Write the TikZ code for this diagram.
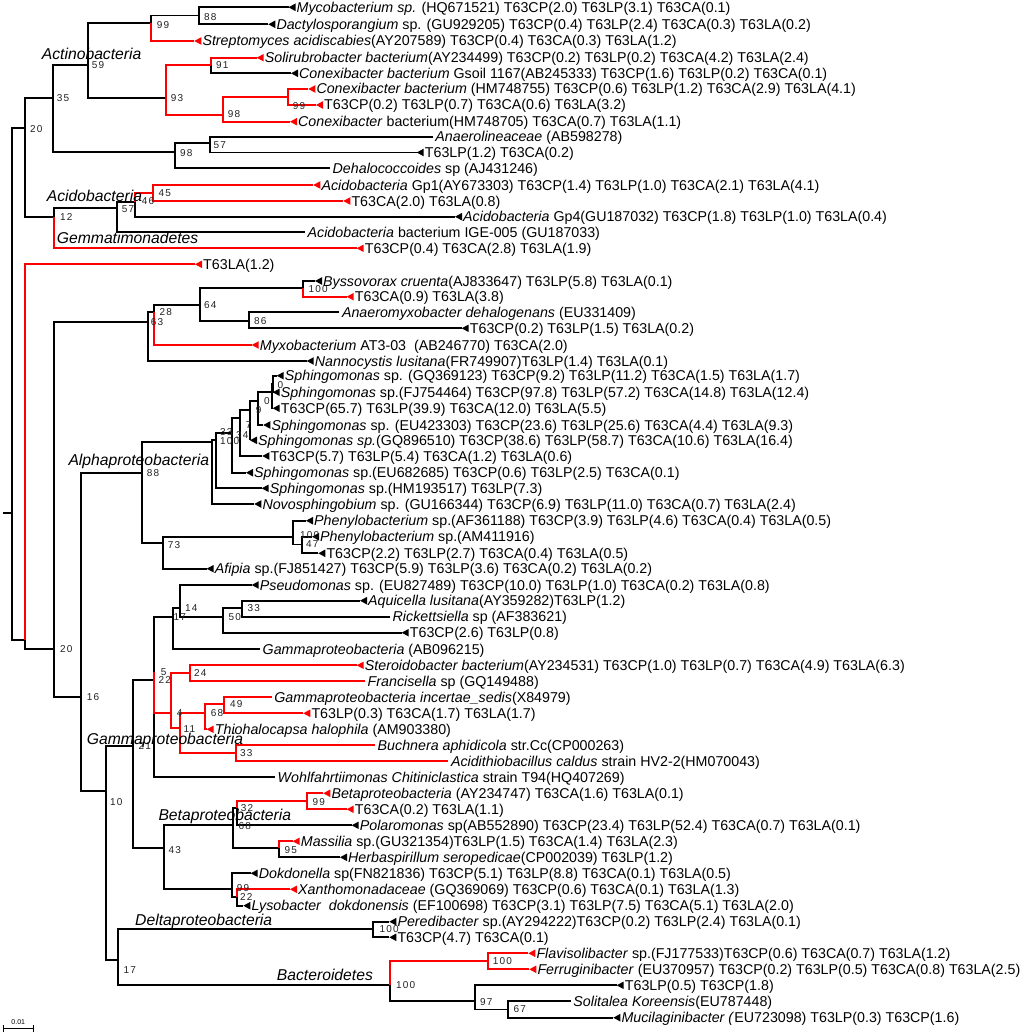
\documentclass[tikz,border=0pt]{standalone}
\usepackage{fontspec}
\setmainfont{Liberation Sans}
\newfontfamily\bsfont[LetterSpace=12]{Liberation Sans}
\definecolor{tred}{RGB}{255,0,0}
\definecolor{bsgray}{RGB}{35,35,35}
\newcommand\LT[5]{%
  \coordinate (#1) at (#2,#3);
  \fill[#4] (#1) -- ++(7,-3.8) -- ++(0,7.6) -- cycle;
  \node[leaftext] (t#1) at ([shift={(8,5)}]#1) {#5};}
\newcommand\LN[5]{%
  \coordinate (#1) at (#2,#3);
  \node[leaftext] (t#1) at ([shift={(2.5,5)}]#1) {#5};}
\newcommand\IN[3]{\coordinate (#1) at (#2,#3);}
\newcommand\BR[3]{\draw[br,#3] (#1) -- (#1 |- #2) -- (#2);}
\newcommand\BS[4]{\node[bs] (#1) at (#2,#3) {#4};}
\begin{document}
\begin{tikzpicture}[x=1pt,y=-1pt,
  br/.style={line width=1.8pt},
  leaftext/.style={font=\fontsize{14.25}{16}\selectfont, inner sep=0pt, anchor=base west},
  grp/.style={font=\fontsize{15.7}{18}\selectfont\itshape, inner sep=0pt, anchor=base west},
  bs/.style={font=\bsfont\fontsize{10}{11}\selectfont, text=bsgray, inner sep=0pt, anchor=west}]
\fill[white] (0,0) rectangle (1028,1035);
\useasboundingbox (0,0) rectangle (1028,1035);
% ---------------- leaves
\LT{L1}{288.5}{7.3}{black}{\textit{Mycobacterium sp.} (HQ671521) T63CP(2.0) T63LP(3.1) T63CA(0.1)}
\LT{L2}{268.3}{24.3}{black}{\textit{Dactylosporangium} sp. (GU929205) T63CP(0.4) T63LP(2.4) T63CA(0.3) T63LA(0.2)}
\LT{L3}{194.3}{41}{tred}{\textit{Streptomyces acidiscabies}(AY207589) T63CP(0.4) T63CA(0.3) T63LA(1.2)}
\LT{L4}{256.7}{57.7}{tred}{\textit{Solirubrobacter bacterium}(AY234499) T63CP(0.2) T63LP(0.2) T63CA(4.2) T63LA(2.4)}
\LT{L5}{291}{73.3}{black}{\textit{Conexibacter bacterium} Gsoil 1167(AB245333) T63CP(1.6) T63LP(0.2) T63CA(0.1)}
\LT{L6}{308.3}{89}{tred}{\textit{Conexibacter bacterium} (HM748755) T63CP(0.6) T63LP(1.2) T63CA(2.9) T63LA(4.1)}
\LT{L7}{316}{105}{tred}{T63CP(0.2) T63LP(0.7) T63CA(0.6) T63LA(3.2)}
\LT{L8}{290}{121.7}{tred}{\textit{Conexibacter} bacterium(HM748705) T63CA(0.7) T63LA(1.1)}
\LN{L9}{432.7}{136.7}{black}{\textit{Anaerolineaceae} (AB598278)}
\LT{L10}{416.7}{152.5}{black}{T63LP(1.2) T63CA(0.2)}
\LN{L11}{330}{168.3}{black}{\textit{Dehalococcoides} sp (AJ431246)}
\LT{L12}{313.3}{185}{tred}{\textit{Acidobacteria} Gp1(AY673303) T63CP(1.4) T63LP(1.0) T63CA(2.1) T63LA(4.1)}
\LT{L13}{343.3}{201}{tred}{T63CA(2.0) T63LA(0.8)}
\LT{L14}{455}{216.7}{black}{\textit{Acidobacteria} Gp4(GU187032) T63CP(1.8) T63LP(1.0) T63LA(0.4)}
\LN{L15}{305}{232.3}{black}{\textit{Acidobacteria} bacterium IGE-005 (GU187033)}
\LT{L16}{356.7}{248.3}{tred}{T63CP(0.4) T63CA(2.8) T63LA(1.9)}
\LT{L17}{195}{264.3}{tred}{T63LA(1.2)}
\LT{L18}{315}{281}{black}{\textit{Byssovorax cruenta}(AJ833647) T63LP(5.8) T63LA(0.1)}
\LT{L19}{346.7}{296.7}{tred}{T63CA(0.9) T63LA(3.8)}
\LN{L20}{339.3}{312.3}{black}{\textit{Anaeromyxobacter dehalogenans} (EU331409)}
\LT{L21}{461.7}{328.3}{black}{T63CP(0.2) T63LP(1.5) T63LA(0.2)}
\LT{L22}{251.7}{345}{tred}{\textit{Myxobacterium} AT3-03\ \ (AB246770) T63CA(2.0)}
\LT{L23}{306.7}{361}{black}{\textit{Nannocystis lusitana}(FR749907)T63LP(1.4) T63LA(0.1)}
\LT{L24}{276.7}{375.7}{black}{\textit{Sphingomonas} sp. (GQ369123) T63CP(9.2) T63LP(11.2) T63CA(1.5) T63LA(1.7)}
\LT{L25}{272.7}{392.3}{black}{\textit{Sphingomonas} sp.(FJ754464) T63CP(97.8) T63LP(57.2) T63CA(14.8) T63LA(12.4)}
\LT{L26}{272.7}{408.3}{black}{T63CP(65.7) T63LP(39.9) T63CA(12.0) T63LA(5.5)}
\LT{L27}{263.3}{425}{black}{\textit{Sphingomonas} sp. (EU423303) T63CP(23.6) T63LP(25.6) T63CA(4.4) T63LA(9.3)}
\LT{L28}{250}{440.3}{black}{\textit{Sphingomonas sp.}(GQ896510) T63CP(38.6) T63LP(58.7) T63CA(10.6) T63LA(16.4)}
\LT{L29}{262.3}{456}{black}{T63CP(5.7) T63LP(5.4) T63CA(1.2) T63LA(0.6)}
\LT{L30}{246}{472.7}{black}{\textit{Sphingomonas} sp.(EU682685) T63CP(0.6) T63LP(2.5) T63CA(0.1)}
\LT{L31}{261.7}{488.3}{black}{\textit{Sphingomonas} sp.(HM193517) T63LP(7.3)}
\LT{L32}{254.3}{504}{black}{\textit{Novosphingobium} sp. (GU166344) T63CP(6.9) T63LP(11.0) T63CA(0.7) T63LA(2.4)}
\LT{L33}{306}{520.7}{black}{\textit{Phenylobacterium} sp.(AF361188) T63CP(3.9) T63LP(4.6) T63CA(0.4) T63LA(0.5)}
\LT{L34}{312}{536.7}{black}{\textit{Phenylobacterium} sp.(AM411916)}
\LT{L35}{318.3}{553.3}{black}{T63CP(2.2) T63LP(2.7) T63CA(0.4) T63LA(0.5)}
\LT{L36}{206.7}{568.7}{black}{\textit{Afipia} sp.(FJ851427) T63CP(5.9) T63LP(3.6) T63CA(0.2) T63LA(0.2)}
\LT{L37}{251.7}{585}{black}{\textit{Pseudomonas} sp. (EU827489) T63CP(10.0) T63LP(1.0) T63CA(0.2) T63LA(0.8)}
\LT{L38}{360}{600.7}{black}{\textit{Aquicella lusitana}(AY359282)T63LP(1.2)}
\LN{L39}{390}{616.7}{black}{\textit{Rickettsiella} sp (AF383621)}
\LT{L40}{401.7}{632.7}{black}{T63CP(2.6) T63LP(0.8)}
\LN{L41}{260}{649}{black}{\textit{Gammaproteobacteria} (AB096215)}
\LT{L42}{356.7}{665.3}{tred}{\textit{Steroidobacter bacterium}(AY234531) T63CP(1.0) T63LP(0.7) T63CA(4.9) T63LA(6.3)}
\LN{L43}{365}{681.3}{tred}{\textit{Francisella} sp (GQ149488)}
\LN{L44}{271.7}{697.3}{tred}{\textit{Gammaproteobacteria incertae\_sedis}(X84979)}
\LT{L45}{303.3}{713.3}{tred}{T63LP(0.3) T63CA(1.7) T63LA(1.7)}
\LT{L46}{206.7}{729.3}{tred}{\textit{Thiohalocapsa halophila} (AM903380)}
\LN{L47}{375}{745.3}{tred}{\textit{Buchnera aphidicola} str.Cc(CP000263)}
\LN{L48}{448.3}{761.3}{tred}{\textit{Acidithiobacillus caldus} strain HV2-2(HM070043)}
\LN{L49}{275}{777.3}{black}{\textit{Wohlfahrtiimonas Chitiniclastica} strain T94(HQ407269)}
\LT{L50}{323.3}{793.3}{tred}{\textit{Betaproteobacteria} (AY234747) T63CA(1.6) T63LA(0.1)}
\LT{L51}{346.7}{809.3}{tred}{T63CA(0.2) T63LA(1.1)}
\LT{L52}{351.7}{825.3}{black}{\textit{Polaromonas} sp(AB552890) T63CP(23.4) T63LP(52.4) T63CA(0.7) T63LA(0.1)}
\LT{L53}{292.7}{841.3}{tred}{\textit{Massilia} sp.(GU321354)T63LP(1.5) T63CA(1.4) T63LA(2.3)}
\LT{L54}{340}{857.3}{black}{\textit{Herbaspirillum seropedicae}(CP002039) T63LP(1.2)}
\LT{L55}{250.7}{873.3}{black}{\textit{Dokdonella} sp(FN821836) T63CP(5.1) T63LP(8.8) T63CA(0.1) T63LA(0.5)}
\LT{L56}{290}{889.3}{tred}{\textit{Xanthomonadaceae} (GQ369069) T63CP(0.6) T63CA(0.1) T63LA(1.3)}
\LT{L57}{243.3}{905.7}{black}{\textit{Lysobacter\ \ dokdonensis} (EF100698) T63CP(3.1) T63LP(7.5) T63CA(5.1) T63LA(2.0)}
\LT{L58}{389.3}{921.7}{black}{\textit{Peredibacter} sp.(AY294222)T63CP(0.2) T63LP(2.4) T63LA(0.1)}
\LT{L59}{389.3}{937.3}{black}{T63CP(4.7) T63CA(0.1)}
\LT{L60}{528.3}{953.3}{tred}{\textit{Flavisolibacter} sp.(FJ177533)T63CP(0.6) T63CA(0.7) T63LA(1.2)}
\LT{L61}{529.3}{969.3}{tred}{\textit{Ferruginibacter} (EU370957) T63CP(0.2) T63LP(0.5) T63CA(0.8) T63LA(2.5)}
\LT{L62}{616.7}{985.3}{black}{T63LP(0.5) T63CP(1.8)}
\LN{L63}{570.7}{1001.3}{black}{\textit{Solitalea Koreensis}(EU787448)}
\LT{L64}{613.3}{1017.7}{black}{\textit{Mucilaginibacter (}EU723098) T63LP(0.3) T63CP(1.6)}
% ---------------- internal nodes
\IN{rootstub}{3.3}{512.7}
\IN{root}{12.3}{512.7}
\IN{N20}{25}{128}
\IN{N35}{53.3}{98}
\IN{N59}{88.3}{65}
\IN{N99a}{151}{23.3}
\IN{N88}{199}{15.5}
\IN{N93}{165.7}{98.3}
\IN{N91}{211}{65}
\IN{N98b}{222.7}{115}
\IN{N99b}{288.3}{97.3}
\IN{N98c}{175}{151.7}
\IN{N57b}{210}{143.3}
\IN{N12}{54.3}{216.7}
\IN{N57}{116.7}{208.3}
\IN{N46}{135}{201.7}
\IN{N45}{153.3}{193.3}
\IN{N20r}{25}{640}
\IN{N20b}{54.3}{649}
\IN{N63}{147.7}{321.7}
\IN{N28}{154.3}{311.7}
\IN{N64}{200}{305}
\IN{N100m}{303.3}{288.3}
\IN{N86}{249.3}{320.7}
\IN{N16}{81}{697.3}
\IN{NA88}{141.7}{472.7}
\IN{Ns8}{211.7}{441.7}
\IN{Ns7}{216}{440}
\IN{Ns6}{231.7}{433.3}
\IN{Ns5}{240}{418.3}
\IN{Ns4}{250}{410}
\IN{Ns3}{258.3}{400.7}
\IN{Ns2}{271.7}{391.7}
\IN{Ns1}{273.3}{384}
\IN{N73}{163.3}{543.3}
\IN{NPh}{293.3}{536.7}
\IN{N47}{301.7}{544.5}
\IN{N10}{106}{790.7}
\IN{N21}{133.3}{745.7}
\IN{N22}{154.3}{680}
\IN{N5}{154.3}{671.7}
\IN{N17g}{172.7}{616.7}
\IN{N14}{180}{608.3}
\IN{N50}{222.7}{616.7}
\IN{N33g}{241.7}{608.3}
\IN{N4}{171}{713.3}
\IN{N24}{190}{673.3}
\IN{N11}{180}{728.3}
\IN{N68g}{205}{713.3}
\IN{N49}{224}{704}
\IN{N33b}{236}{753}
\IN{N43}{164.3}{848.3}
\IN{N68b}{233.3}{825.3}
\IN{N32b}{236.7}{808.3}
\IN{N99be}{306.7}{801.3}
\IN{N95}{279.3}{848.3}
\IN{NX99}{231.7}{889.3}
\IN{NX22}{236.7}{896.7}
\IN{N17}{118.3}{960}
\IN{ND}{372.7}{929.3}
\IN{NB}{390}{985.3}
\IN{NF}{488.3}{961}
\IN{N97}{475}{1001.3}
\IN{N67}{508.3}{1009.5}
% ---------------- black branches
\draw[br] (rootstub) -- (root);
\BR{root}{N20}{black}\BR{root}{N20r}{black}
\BR{N20}{N35}{black}\BR{N20}{N12}{black}
\BR{N35}{N59}{black}\BR{N35}{N98c}{black}
\BR{N59}{N99a}{black}\BR{N59}{N93}{black}
\BR{N99a}{N88}{black}
\BR{N88}{L1}{black}\BR{N88}{L2}{black}
\BR{N91}{L5}{black}
\BR{N98c}{N57b}{black}\BR{N98c}{L11}{black}
\BR{N57b}{L9}{black}\BR{N57b}{L10}{black}
\BR{N12}{N57}{black}
\BR{N57}{N46}{black}\BR{N57}{L15}{black}
\BR{N46}{L14}{black}
\BR{N20r}{N20b}{black}
\BR{N20b}{N63}{black}\BR{N20b}{N16}{black}
\BR{N63}{N28}{black}\BR{N63}{L23}{black}
\BR{N28}{N64}{black}
\BR{N64}{N100m}{black}\BR{N64}{N86}{black}
\BR{N100m}{L18}{black}
\BR{N86}{L20}{black}\BR{N86}{L21}{black}
\BR{N16}{NA88}{black}\BR{N16}{N10}{black}
\BR{NA88}{Ns8}{black}\BR{NA88}{N73}{black}
\BR{Ns8}{Ns7}{black}\BR{Ns8}{L32}{black}
\BR{Ns7}{Ns6}{black}\BR{Ns7}{L31}{black}
\BR{Ns6}{Ns5}{black}\BR{Ns6}{L30}{black}
\BR{Ns5}{Ns4}{black}\BR{Ns5}{L29}{black}
\BR{Ns4}{Ns3}{black}\BR{Ns4}{L28}{black}
\BR{Ns3}{Ns2}{black}\BR{Ns3}{L27}{black}
\BR{Ns2}{Ns1}{black}\BR{Ns2}{L26}{black}
\BR{Ns1}{L24}{black}\BR{Ns1}{L25}{black}
\BR{N73}{NPh}{black}\BR{N73}{L36}{black}
\BR{NPh}{L33}{black}\BR{NPh}{N47}{black}
\BR{N47}{L34}{black}\BR{N47}{L35}{black}
\BR{N10}{N21}{black}\BR{N10}{N17}{black}
\BR{N21}{N22}{black}\BR{N21}{N43}{black}
\BR{N22}{N5}{black}\BR{N22}{L49}{black}
\BR{N5}{N17g}{black}
\BR{N17g}{N14}{black}\BR{N17g}{L41}{black}
\BR{N14}{L37}{black}\BR{N14}{N50}{black}
\BR{N50}{N33g}{black}\BR{N50}{L40}{black}
\BR{N33g}{L38}{black}\BR{N33g}{L39}{black}
\BR{N43}{N68b}{black}\BR{N43}{NX99}{black}
\BR{N68b}{N32b}{black}\BR{N68b}{N95}{black}
\BR{N32b}{L52}{black}
\BR{N95}{L54}{black}
\BR{NX99}{L55}{black}\BR{NX99}{NX22}{black}
\BR{NX22}{L57}{black}
\BR{N17}{ND}{black}\BR{N17}{NB}{black}
\BR{ND}{L58}{black}\BR{ND}{L59}{black}
\BR{NB}{N97}{black}
\BR{N97}{L62}{black}\BR{N97}{N67}{black}
\BR{N67}{L63}{black}\BR{N67}{L64}{black}
% ---------------- red branches
\BR{N99a}{L3}{tred}
\BR{N93}{N91}{tred}\BR{N93}{N98b}{tred}
\BR{N91}{L4}{tred}
\BR{N98b}{N99b}{tred}\BR{N98b}{L8}{tred}
\BR{N99b}{L6}{tred}\BR{N99b}{L7}{tred}
\BR{N12}{L16}{tred}
\BR{N46}{N45}{tred}
\BR{N45}{L12}{tred}\BR{N45}{L13}{tred}
\BR{N20r}{L17}{tred}
\BR{N28}{L22}{tred}
\BR{N100m}{L19}{tred}
\BR{N5}{N4}{tred}
\BR{N4}{N24}{tred}\BR{N4}{N11}{tred}
\BR{N24}{L42}{tred}\BR{N24}{L43}{tred}
\BR{N11}{N68g}{tred}\BR{N11}{N33b}{tred}
\BR{N68g}{N49}{tred}\BR{N68g}{L46}{tred}
\BR{N49}{L44}{tred}\BR{N49}{L45}{tred}
\BR{N33b}{L47}{tred}\BR{N33b}{L48}{tred}
\BR{N32b}{N99be}{tred}
\BR{N99be}{L50}{tred}\BR{N99be}{L51}{tred}
\BR{N95}{L53}{tred}
\BR{NX22}{L56}{tred}
\BR{NB}{NF}{tred}
\BR{NF}{L60}{tred}\BR{NF}{L61}{tred}
% ---------------- bootstrap values
\BS{b1}{204}{16.7}{88}
\BS{b2}{156.7}{25}{99}
\BS{b3}{91.7}{65}{59}
\BS{b4}{56.7}{98.3}{35}
\BS{b5}{30}{129.3}{20}
\BS{b6}{216}{65}{91}
\BS{b7}{170.7}{98.3}{93}
\BS{b8}{292.7}{106}{99}
\BS{b9}{227.7}{114}{98}
\BS{b10}{213.3}{145}{57}
\BS{b11}{180}{153.3}{98}
\BS{b12}{158.3}{193.3}{45}
\BS{b13}{141.7}{201}{46}
\BS{b14}{121.7}{209}{57}
\BS{b15}{60}{216.7}{12}
\BS{b16}{308.3}{289}{100}
\BS{b17}{204}{305}{64}
\BS{b18}{159.3}{311.7}{28}
\BS{b19}{150.7}{321.7}{63}
\BS{b20}{254}{320.7}{86}
\BS{b21}{277.3}{385}{0}
\BS{b22}{264}{400.7}{0}
\BS{b23}{255.7}{410}{9}
\BS{b24}{245.7}{425}{7}
\BS{b25}{236}{435}{34}
\BS{b26}{220}{431.7}{33}
\BS{b27}{220}{440.7}{100}
\BS{b28}{146.7}{472.7}{88}
\BS{b29}{167.7}{545}{73}
\BS{b30}{300}{535}{100}
\BS{b31}{306}{544.3}{47}
\BS{b32}{60}{649}{20}
\BS{b33}{185}{608.3}{14}
\BS{b34}{173.3}{616.7}{17}
\BS{b35}{228.3}{616.7}{50}
\BS{b36}{247.3}{608.3}{33}
\BS{b37}{160.7}{671.7}{5}
\BS{b38}{158.3}{680.3}{22}
\BS{b39}{194}{673.3}{24}
\BS{b40}{86.7}{697.3}{16}
\BS{b41}{230}{704}{49}
\BS{b42}{210.7}{713.3}{68}
\BS{b43}{176.7}{713.3}{4}
\BS{b44}{183.3}{729.3}{11}
\BS{b45}{138.3}{745.7}{21}
\BS{b46}{240}{752.7}{33}
\BS{b47}{110}{801.7}{10}
\BS{b48}{240.7}{808.3}{32}
\BS{b49}{312.3}{801.7}{99}
\BS{b50}{238.3}{826}{68}
\BS{b51}{168.3}{850}{43}
\BS{b52}{284.3}{850}{95}
\BS{b53}{236.7}{887.7}{99}
\BS{b54}{240}{896.7}{22}
\BS{b55}{379.3}{929.3}{100}
\BS{b56}{123.3}{970}{17}
\BS{b57}{396}{985}{100}
\BS{b58}{492.7}{961}{100}
\BS{b59}{480}{1001.7}{97}
\BS{b60}{513.3}{1009.3}{67}
% ---------------- group labels
\node[grp] (gActino) at (41.7,59.5) {Actinobacteria};
\node[grp] (gAcido) at (46.7,201.7) {Acidobacteria};
\node[grp] (gGemma) at (56.7,243.3) {Gemmatimonadetes};
\node[grp] (gAlpha) at (68.3,465) {Alphaproteobacteria};
\node[grp] (gGamma) at (86.7,744.3) {Gammaproteobacteria};
\node[grp] (gBeta) at (158.3,820) {Betaproteobacteria};
\node[grp] (gDelta) at (135,925) {Deltaproteobacteria};
\node[grp] (gBact) at (276.7,980) {Bacteroidetes};
% ---------------- scale bar
\coordinate (sbA) at (3.3,1028.3);
\coordinate (sbB) at (33.3,1028.3);
\draw[line width=1.4pt] (sbA) -- (sbB);
\draw[line width=1.2pt] ([yshift=-3.5pt]sbA) -- ([yshift=3.5pt]sbA);
\draw[line width=1.2pt] ([yshift=-3.5pt]sbB) -- ([yshift=3.5pt]sbB);
\node[font=\fontsize{7}{8}\selectfont, inner sep=0pt, anchor=base] (sbl) at (18.3,1024.5) {0.01};
\end{tikzpicture}
\end{document}
